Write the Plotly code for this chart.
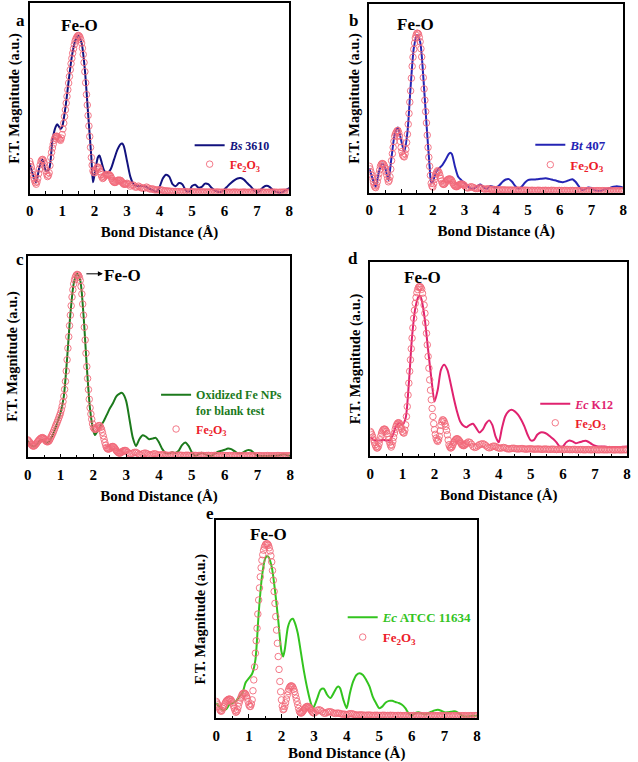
import plotly.graph_objects as go

W, H = 638, 762
FONT = "Liberation Serif"

# Fe2O3 reference: magnitude (% of axis height).
# R grid: 0.025 A steps up to 2.975 A, then 0.05 A steps from 3.0 to 8.0 A
r_grid = [round(i * 0.025, 3) for i in range(120)] + [round(3 + i * 0.05, 2) for i in range(101)]

fe2o3_a = [
    17, 15.5, 14, 12, 10, 8.5, 7, 5.8, 5, 6.2,
    8, 10.5, 13, 15.2, 17, 17.8, 18, 17.3, 16, 14,
    12, 10.3, 9, 9.6, 11, 14.8, 19, 21.7, 24, 26,
    28, 29.2, 30, 30.2, 30, 29.6, 29, 28.4, 28, 29.2,
    31, 34, 37, 40.5, 44, 47.5, 51, 54.5, 58, 61.5,
    65, 68.2, 71, 73.7, 76, 78.2, 80, 81.2, 82, 82.7,
    83, 82.7, 82, 80.7, 79, 76.3, 73, 68.8, 64, 58.2,
    52, 46.5, 41, 35.5, 30, 24.3, 19, 15, 12, 11.2,
    11, 12, 13, 13.7, 14, 13.7, 13, 11.5, 10, 8.8,
    8, 8.4, 9, 9.6, 10, 10.1, 10, 10.1, 10, 9.6,
    9, 8, 7, 6.4, 6, 5.9, 6, 6.5, 7, 7.1,
    7, 7.1, 7, 6.5, 6, 5.5, 5, 5, 5, 5.2,
    # 3.00 A onwards
    5.5, 5, 4, 4.5, 4.5, 3.5, 3.5, 4, 3.5, 3,
    3, 3, 3.5, 3, 2.5, 2.5, 2.5, 2, 2, 2,
    2, 2, 1.8, 1.5, 1.5, 1.5, 1.3, 1.3, 1.2, 1.2,
    1.2, 1.1, 1.1, 1.0, 1.0, 1.1, 1.1, 1.0, 0.9, 0.9,
    1.0, 1.0, 0.9, 0.9, 0.9, 1.0, 1.0, 0.9, 0.9, 0.9,
    0.9, 0.9, 0.9, 0.8, 0.8, 0.9, 0.9, 0.8, 0.8, 0.8,
    0.8, 0.9, 0.8, 0.8, 0.7, 0.8, 0.9, 0.8, 0.8, 0.7,
    0.8, 0.8, 0.9, 0.8, 0.7, 0.8, 0.8, 0.9, 0.8, 0.8,
    0.7, 0.8, 0.8, 0.9, 0.8, 0.8, 0.7, 0.8, 0.8, 0.8,
    0.9, 0.8, 0.8, 0.7, 0.8, 0.8, 0.8, 0.9, 0.8, 0.8,
    0.8,
]

fe2o3_b = [
    14, 12.6, 11, 9.3, 7.6, 5.7, 4, 3.1, 2.7, 4,
    5.8, 7.9, 10, 12.1, 14, 15, 15.5, 15.4, 15, 14.1,
    13, 11.3, 9.4, 7.5, 5.8, 6.6, 8.5, 12.5, 17, 20.7,
    24, 27.2, 30, 31.2, 32, 32.8, 33, 31.8, 30, 27.2,
    24, 21.8, 20, 19.3, 19, 20.6, 23, 26.6, 31, 36.3,
    42, 48, 54, 60.7, 67, 71.8, 76, 79.3, 82, 83.5,
    84.5, 84.5, 84, 82.3, 80, 76.3, 72, 66.7, 61, 55,
    49, 43, 37, 30.5, 24, 18.8, 14, 9.2, 5, 3.5,
    3, 4.8, 7, 8.6, 10, 11, 11.7, 11.3, 10.6, 9.2,
    7.6, 6.2, 5, 4.5, 4.4, 4.8, 5.5, 6.1, 6.7, 7,
    7.2, 7.3, 7.2, 6.9, 6.4, 5.5, 4.6, 4, 3.5, 3.3,
    3.2, 3.4, 3.7, 4.1, 4.4, 4.5, 4.6, 4.5, 4.4, 4.1,
    # 3.00 A onwards
    3.7, 2.8, 2.5, 2.8, 3.2, 3, 2.6, 2.2, 2.2, 2.5,
    2.6, 2.3, 2, 1.8, 2, 2.1, 1.9, 1.7, 1.6, 1.7,
    1.7, 1.6, 1.5, 1.5, 1.5, 1.5, 1.4, 1.4, 1.4, 1.4,
    1.4, 1.3, 1.3, 1.4, 1.4, 1.3, 1.3, 1.3, 1.4, 1.3,
    1.3, 1.2, 1.3, 1.3, 1.2, 1.2, 1.3, 1.3, 1.2, 1.2,
    1.2, 1.3, 1.2, 1.2, 1.2, 1.3, 1.2, 1.2, 1.1, 1.2,
    1.2, 1.2, 1.1, 1.2, 1.2, 1.1, 1.1, 1.2, 1.2, 1.1,
    1.1, 1.2, 1.1, 1.1, 1.2, 1.1, 1.1, 1.1, 1.2, 1.1,
    1.1, 1.1, 1.0, 1.1, 1.1, 1.1, 1.0, 1.1, 1.1, 1.0,
    1.0, 1.1, 1.1, 1.0, 1.0, 1.1, 1.0, 1.0, 1.1, 1.0,
    1.0,
]

fe2o3_c = [
    8.7, 8.2, 7.7, 7.2, 6.6, 6.1, 5.7, 5.6, 5.7, 6.1,
    6.6, 7.1, 7.7, 8.2, 8.7, 9.1, 9.5, 9.7, 9.8, 9.6,
    9.3, 8.8, 8.2, 7.9, 7.7, 7.9, 8.2, 8.9, 9.8, 10.6,
    11.5, 12.4, 13.4, 14.5, 15.6, 16.5, 17.5, 18.6, 19.7, 20.8,
    22, 23.6, 25.4, 27.6, 30.3, 33.7, 37.7, 42.8, 48.4, 54.1,
    59.8, 65.3, 70.5, 75.2, 79.5, 83.1, 86, 88, 89.3, 90.2,
    90.7, 90.6, 90.2, 89.2, 87.7, 84.7, 81, 76, 70.5, 64.5,
    58.2, 51.6, 45, 39.1, 33.6, 28.8, 24.6, 21.5, 18.9, 16.6,
    14.8, 14.2, 13.9, 14, 14.4, 15, 15.6, 15.8, 15.6, 14.9,
    13.9, 12.4, 10.7, 9, 7.4, 6, 4.9, 4.3, 4.1, 4.2,
    4.4, 4.8, 5.2, 5.4, 5.4, 5.1, 4.6, 4, 3.3, 2.9,
    2.5, 2.2, 2.1, 2.2, 2.5, 2.8, 3.1, 3.3, 3.4, 3.4,
    # 3.00 A onwards
    3.3, 2.5, 1.8, 1.8, 2.1, 2.5, 2.5, 2, 1.5, 1.3,
    1.8, 2.1, 2.1, 1.7, 1.3, 1.2, 1.5, 1.8, 1.7, 1.3,
    1.1, 1.2, 1.4, 1.4, 1.2, 1.0, 1.0, 1.1, 1.2, 1.1,
    1.0, 1.0, 1.1, 1.1, 1.0, 0.9, 1.0, 1.1, 1.0, 0.9,
    0.9, 1.0, 1.0, 0.9, 0.9, 1.0, 1.0, 0.9, 0.9, 0.9,
    1.0, 0.9, 0.9, 0.9, 1.0, 0.9, 0.9, 0.8, 0.9, 0.9,
    0.9, 0.8, 0.9, 0.9, 0.8, 0.9, 0.9, 0.8, 0.8, 0.9,
    0.8, 0.8, 0.9, 0.8, 0.8, 0.8, 0.9, 0.8, 0.8, 0.8,
    0.8, 0.9, 0.8, 0.8, 0.8, 0.8, 0.9, 0.8, 0.8, 0.8,
    0.8, 0.8, 0.9, 0.9, 0.8, 0.8, 0.8, 0.8, 0.8, 0.8,
    0.8,
]

fe2o3_d = [
    12.8, 12.1, 11.1, 9.9, 8.5, 7.2, 6, 5, 4.3, 4.4,
    5.1, 6.6, 8.5, 10.4, 12, 13, 13.7, 14, 14, 13.6,
    12.8, 11.7, 10.3, 8.7, 7.2, 5.8, 4.8, 5.8, 7.7, 9.8,
    12, 13.9, 15.4, 16.4, 17.1, 17.3, 17.1, 16.4, 15.4, 14.1,
    12.8, 12.1, 12, 13.5, 16.2, 20.5, 25.6, 31.5, 37.6, 43.7,
    49.6, 55.3, 60.7, 66, 70.9, 75, 78.6, 81.6, 84.1, 85.7,
    86.8, 87.2, 87.2, 86.7, 85.8, 83.8, 81.2, 77.7, 73.5, 68.6,
    63.2, 57.3, 51.3, 45.3, 39.3, 34, 29.1, 24.6, 20.5, 16.8,
    13.7, 11.3, 9.4, 8.2, 7.7, 8.6, 10.3, 13.1, 16, 17.8,
    18.8, 18.6, 17.9, 16.8, 15.4, 13.4, 11.1, 8.4, 6, 4.9,
    4.3, 4.5, 5.1, 6.1, 7.2, 7.9, 8.5, 8.9, 9.1, 8.9,
    8.5, 8, 7.4, 6.7, 6, 5.7, 5.5, 5.6, 6, 6.4,
    # 3.00 A onwards
    6.8, 7.4, 7.2, 6.3, 5.1, 4.6, 4.8, 5.4, 6, 6.3,
    6.5, 6.2, 5.5, 4.8, 4.4, 4.6, 5.1, 5.3, 5.1, 4.6,
    4.3, 4.2, 4.4, 4.6, 4.4, 4.0, 3.8, 3.9, 4.1, 4.2,
    4.1, 3.9, 3.8, 3.9, 4.0, 4.0, 3.8, 3.7, 3.8, 3.9,
    3.9, 3.8, 3.7, 3.7, 3.8, 3.8, 3.7, 3.6, 3.7, 3.8,
    3.7, 3.6, 3.6, 3.7, 3.7, 3.6, 3.5, 3.6, 3.7, 3.6,
    3.5, 3.5, 3.6, 3.6, 3.5, 3.5, 3.5, 3.6, 3.5, 3.4,
    3.5, 3.5, 3.5, 3.4, 3.4, 3.5, 3.5, 3.4, 3.4, 3.5,
    3.5, 3.4, 3.4, 3.4, 3.5, 3.4, 3.4, 3.4, 3.4, 3.5,
    3.4, 3.4, 3.3, 3.4, 3.4, 3.4, 3.3, 3.4, 3.4, 3.4,
    3.4,
]

fe2o3_e = [
    8.4, 7.6, 6.7, 5.6, 4.5, 3.8, 3.4, 3.9, 5, 5.8,
    6.7, 7.6, 8.4, 8.9, 9.2, 9.5, 9.6, 9.5, 9.2, 8.5,
    7.6, 6.3, 5, 3.8, 2.9, 3.3, 4.2, 5.8, 7.6, 9,
    10.1, 11.2, 12.1, 12.5, 12.6, 12.5, 12.1, 11.2, 10.1, 8.4,
    6.7, 5.9, 5.9, 7.1, 9.2, 13.8, 19.3, 25.9, 32.8, 39.1,
    45.4, 52.6, 59.7, 65.8, 71.4, 76, 79.8, 82.6, 84.9, 86.4,
    87.4, 88, 88.2, 88, 87.4, 86.1, 84.5, 82, 79, 74.6,
    69.7, 64, 58, 51.3, 44.5, 37.8, 31.1, 24.6, 18.5, 13.3,
    9.2, 6, 4.2, 4.6, 5.9, 7.7, 9.6, 11.6, 13.4, 14.7,
    15.6, 16.1, 16.3, 16.1, 15.6, 14.6, 13.4, 11.8, 10.1, 8.4,
    6.7, 4.9, 3.4, 2.7, 2.5, 2.7, 3.2, 3.8, 4.5, 5,
    5.5, 5.8, 5.9, 5.7, 5.3, 4.8, 4.2, 3.6, 3, 2.7,
    # 3.00 A onwards
    2.5, 3, 3.9, 4.2, 3.9, 3.2, 2.5, 2.4, 2.9, 3.2,
    3.2, 2.9, 2.5, 2.3, 2.5, 2.5, 2.3, 2, 2, 1.9,
    1.7, 1.9, 2.2, 2.2, 2.0, 1.7, 1.5, 1.5, 1.6, 1.6,
    1.5, 1.4, 1.4, 1.5, 1.5, 1.4, 1.3, 1.4, 1.4, 1.4,
    1.3, 1.3, 1.4, 1.4, 1.3, 1.3, 1.3, 1.4, 1.3, 1.3,
    1.2, 1.3, 1.3, 1.3, 1.2, 1.2, 1.3, 1.3, 1.2, 1.2,
    1.2, 1.3, 1.2, 1.2, 1.2, 1.3, 1.2, 1.2, 1.2, 1.2,
    1.2, 1.2, 1.3, 1.2, 1.2, 1.2, 1.2, 1.2, 1.1, 1.2,
    1.2, 1.2, 1.2, 1.1, 1.2, 1.2, 1.2, 1.2, 1.2, 1.1,
    1.2, 1.2, 1.2, 1.2, 1.1, 1.2, 1.2, 1.2, 1.2, 1.2,
    1.2,
]

# sample curves: (R in A, magnitude in % of axis height)
bs3610 = [
    (0.0, 16), (0.1, 10), (0.2, 6), (0.3, 14), (0.4, 18), (0.5, 12), (0.6, 13),
    (0.7, 28), (0.8, 35), (0.85, 36.4), (0.95, 34), (1.0, 35), (1.1, 45),
    (1.2, 59), (1.3, 72), (1.4, 80), (1.5, 83), (1.6, 79), (1.7, 65), (1.8, 42),
    (1.9, 19), (1.95, 6), (2.0, 10), (2.1, 19), (2.15, 20), (2.2, 17.5),
    (2.3, 12), (2.4, 11), (2.5, 13), (2.6, 18), (2.7, 23), (2.8, 26),
    (2.85, 26.3), (2.9, 25), (3.0, 17), (3.1, 9), (3.2, 5), (3.3, 4), (3.4, 4),
    (3.5, 4), (3.6, 3.5), (3.7, 2.6), (3.8, 1.8), (3.9, 1), (4.0, 3.5),
    (4.1, 8), (4.2, 10), (4.3, 9), (4.4, 5), (4.5, 4), (4.6, 5.6), (4.7, 5),
    (4.8, 2), (4.9, 1), (5.0, 4), (5.1, 4.7), (5.2, 3.2), (5.3, 3.6),
    (5.4, 5.3), (5.5, 5), (5.6, 3.2), (5.7, 1.8), (5.8, 1), (5.9, 1),
    (6.0, 2.3), (6.1, 4), (6.2, 5.6), (6.3, 7), (6.4, 8), (6.5, 8.2),
    (6.6, 7.4), (6.7, 5.6), (6.8, 4), (6.9, 2.1), (7.0, 0.6), (7.1, 1.8),
    (7.2, 3.5), (7.3, 4.2), (7.4, 3.5), (7.5, 1.8), (7.6, 1), (7.7, 0.5),
    (7.8, 1), (7.9, 2), (8.0, 3),
]

bt407 = [
    (0.0, 13), (0.1, 7.6), (0.2, 3.2), (0.3, 11), (0.4, 15.5), (0.5, 13),
    (0.6, 6.7), (0.7, 19), (0.8, 31), (0.9, 34.6), (1.0, 28), (1.1, 21.7),
    (1.2, 32), (1.3, 56), (1.4, 76.5), (1.5, 83.6), (1.6, 80), (1.7, 61.5),
    (1.8, 36.7), (1.9, 13.8), (1.95, 5.5), (2.0, 5.8), (2.1, 11), (2.2, 13),
    (2.3, 14.7), (2.4, 17.3), (2.5, 20.5), (2.55, 21.2), (2.6, 20.5),
    (2.7, 13.8), (2.8, 8.5), (2.9, 6.7), (3.0, 5.3), (3.1, 3.5), (3.2, 2.3),
    (3.3, 2.3), (3.4, 3.5), (3.5, 4.4), (3.6, 2.8), (3.7, 2.1), (3.8, 3.5),
    (3.9, 3.2), (4.0, 2.8), (4.1, 4), (4.2, 5.8), (4.3, 7), (4.4, 7.2),
    (4.5, 5.8), (4.6, 3.5), (4.7, 2.1), (4.8, 3.2), (4.9, 5.3), (5.0, 6.7),
    (5.1, 7), (5.2, 7), (5.3, 7.2), (5.4, 7.4), (5.5, 7.6), (5.6, 7.6),
    (5.7, 7.2), (5.8, 6.7), (5.9, 6.4), (6.0, 5.8), (6.1, 5.6), (6.2, 6),
    (6.3, 6.7), (6.4, 7.2), (6.5, 5.8), (6.6, 3.5), (6.7, 1.4), (6.8, 1.9),
    (6.9, 2.8), (7.0, 2.5), (7.1, 1.4), (7.2, 1), (7.3, 1), (7.4, 1.8),
    (7.5, 2.1), (7.6, 2.7), (7.7, 3.2), (7.8, 3.5), (7.9, 3.2), (8.0, 2.7),
]

oxidized_fe = [
    (0.0, 8.2), (0.1, 6.1), (0.2, 5.4), (0.3, 7), (0.4, 8.7), (0.5, 8.2),
    (0.6, 6.9), (0.7, 9), (0.8, 12.6), (0.9, 17.2), (1.0, 22), (1.1, 30.3),
    (1.2, 49), (1.3, 71), (1.4, 86), (1.5, 91), (1.6, 87.7), (1.7, 70.5),
    (1.8, 45), (1.9, 23.8), (2.0, 13.1), (2.05, 11.1), (2.1, 12.3),
    (2.2, 15.2), (2.3, 17.5), (2.4, 20.8), (2.5, 24.2), (2.6, 27), (2.7, 30.3),
    (2.8, 31.6), (2.85, 32), (2.9, 31.6), (3.0, 27.9), (3.1, 18.9), (3.2, 9.8),
    (3.3, 5.7), (3.4, 9), (3.5, 11), (3.6, 10.3), (3.7, 9), (3.8, 9.3),
    (3.9, 9.7), (4.0, 7.4), (4.1, 4.1), (4.2, 2.1), (4.3, 2), (4.4, 2.5),
    (4.5, 2.2), (4.6, 3.3), (4.7, 6.1), (4.8, 7.4), (4.9, 5.7), (5.0, 2.5),
    (5.1, 0.8), (5.2, 1.5), (5.3, 2.3), (5.4, 1.6), (5.5, 0.8), (5.6, 0.8),
    (5.7, 1.8), (5.8, 2.8), (5.9, 3.3), (6.0, 3.8), (6.1, 4.4), (6.2, 4.1),
    (6.3, 3.1), (6.4, 2.1), (6.5, 2.1), (6.6, 2.8), (6.7, 3.6), (6.8, 3.4),
    (6.9, 2.1), (7.0, 0.8), (7.1, 0.7), (7.2, 0.7), (7.3, 0.7), (7.4, 0.8),
    (7.5, 0.8), (7.6, 0.9), (7.7, 1.2), (7.8, 1.5), (7.9, 1.1), (8.0, 0.8),
]

ec_k12 = [
    (0.0, 10), (0.1, 8.5), (0.2, 8.2), (0.3, 8.2), (0.4, 8.5), (0.5, 8.2),
    (0.6, 8.2), (0.7, 11), (0.8, 15.4), (0.9, 17.1), (1.0, 16.2), (1.1, 19.7),
    (1.2, 37.6), (1.3, 61.5), (1.4, 76), (1.5, 82), (1.55, 82.4), (1.6, 80.3),
    (1.7, 70), (1.8, 54.7), (1.9, 40.2), (2.0, 28.2), (2.1, 34.2), (2.2, 44.4),
    (2.3, 47), (2.4, 44.4), (2.5, 37.6), (2.6, 29.9), (2.7, 23.1), (2.8, 17.9),
    (2.9, 15.7), (3.0, 15), (3.1, 16.2), (3.2, 16.8), (3.3, 14.5), (3.4, 12.3),
    (3.5, 13.7), (3.6, 16.8), (3.7, 18.5), (3.8, 16.2), (3.9, 10.3), (4.0, 7.2),
    (4.1, 14.5), (4.2, 20.5), (4.3, 23.1), (4.4, 23.9), (4.5, 23.1), (4.6, 21.4),
    (4.7, 18.8), (4.8, 15.4), (4.9, 11.1), (5.0, 8.2), (5.1, 8.5), (5.2, 11.1),
    (5.3, 12.3), (5.4, 12.3), (5.5, 11.6), (5.6, 10.3), (5.7, 8.9), (5.8, 7.2),
    (5.9, 5.1), (6.0, 5.1), (6.1, 7.2), (6.2, 8.2), (6.3, 7.7), (6.4, 6.8),
    (6.5, 7.2), (6.6, 7.7), (6.7, 8), (6.8, 7.4), (6.9, 6.3), (7.0, 5.5),
    (7.1, 5.1), (7.2, 5.1), (7.3, 5.1), (7.4, 4.8), (7.5, 4.8), (7.6, 4.8),
    (7.7, 4.8), (7.8, 4.8), (7.9, 5), (8.0, 5.1),
]

ec_atcc11634 = [
    (0.0, 7.6), (0.1, 5.5), (0.2, 3.9), (0.3, 4.5), (0.4, 6.7), (0.5, 7.6),
    (0.6, 8.4), (0.7, 10.9), (0.8, 12.6), (0.9, 18), (1.0, 20.2), (1.1, 22.4),
    (1.2, 29.4), (1.3, 52.9), (1.4, 71.4), (1.5, 80.7), (1.55, 81.8),
    (1.6, 81.5), (1.7, 76.5), (1.8, 64.7), (1.9, 49.6), (2.0, 33.6),
    (2.05, 31.1), (2.1, 34.5), (2.2, 46.2), (2.3, 49.9), (2.35, 50.2),
    (2.4, 48.7), (2.5, 42.9), (2.6, 32.8), (2.7, 22.7), (2.8, 14.3), (2.9, 7.6),
    (2.97, 5), (3.1, 10.1), (3.2, 14.3), (3.3, 14.8), (3.4, 11.8), (3.5, 10.1),
    (3.6, 12.6), (3.7, 15.5), (3.75, 16), (3.8, 15.1), (3.9, 9.2), (4.0, 5),
    (4.1, 12.6), (4.2, 18.5), (4.3, 21.8), (4.4, 22.7), (4.5, 21.8),
    (4.6, 19.3), (4.7, 16), (4.8, 10.9), (4.9, 7.6), (5.0, 5), (5.1, 5.9),
    (5.2, 7.9), (5.3, 8.7), (5.4, 8.7), (5.5, 8.1), (5.6, 7.6), (5.7, 6.7),
    (5.8, 5), (5.9, 2.5), (6.0, 1.2), (6.1, 2.5), (6.2, 3), (6.3, 2.4),
    (6.4, 1.8), (6.5, 2.5), (6.6, 3.2), (6.7, 3.9), (6.8, 4.2), (6.9, 3.7),
    (7.0, 2.9), (7.1, 2.9), (7.2, 3.2), (7.3, 3.4), (7.4, 2.9), (7.5, 1.7),
    (7.6, 0.8), (7.7, 0.8), (7.8, 1), (7.9, 1.2), (8.0, 1.2),
]

x_ticks = [0, 1, 2, 3, 4, 5, 6, 7, 8]

FE_COLOR = "#f26a7a"
FE_TEXT = "#ec1c2a"
FE_NAME = f"<span style='color:{FE_TEXT}'><b>Fe<sub>2</sub>O<sub>3</sub></b></span>"

# pixel boxes: left, top, right, bottom
panels = [
    dict(letter="a", box=(26, 3, 289, 194), letter_xy=(10, 9), line=bs3610, fe=fe2o3_a,
         color="#12127e", name="<i>Bs</i> 3610", leg=(188, 131), leg_size=12,
         feo=(1.55, 88)),
    dict(letter="b", box=(370, 4, 627, 193), letter_xy=(354, 9), line=bt407, fe=fe2o3_b,
         color="#2424b4", name="<i>Bt</i> 407", leg=(533, 130), leg_size=13,
         feo=(1.46, 89)),
    dict(letter="c", box=(24, 256, 290, 458), letter_xy=(10, 260), line=oxidized_fe,
         fe=fe2o3_c, color="#1c7a1c", name="Oxidized Fe NPs<br>for blank test",
         leg=(154, 381), leg_size=12, feo=(2.89, 90)),
    dict(letter="d", box=(371, 262, 631, 457), letter_xy=(353, 259), line=ec_k12,
         fe=fe2o3_d, color="#e0226f", name="<i>Ec</i> K12", leg=(538, 390),
         leg_size=12, feo=(1.63, 92)),
    dict(letter="e", box=(215, 521, 479, 719), letter_xy=(203, 526), line=ec_atcc11634,
         fe=fe2o3_e, color="#33c41f", name="<i>Ec</i> ATCC 11634", leg=(343, 603),
         leg_size=13, feo=(1.6, 93)),
]

fig = go.Figure()
annotations = []

for i, p in enumerate(panels):
    n = "" if i == 0 else str(i + 1)
    xid, yid, legid = "x" + n, "y" + n, "legend" + n
    left, top, right, bottom = p["box"]

    fig.add_trace(go.Scatter(
        x=[r for r, _ in p["line"]], y=[v for _, v in p["line"]],
        mode="lines", line=dict(color=p["color"], width=2, shape="spline", smoothing=0.7),
        name=f"<span style='color:{p['color']}'><b>{p['name']}</b></span>",
        xaxis=xid, yaxis=yid, legend=legid,
    ))
    fig.add_trace(go.Scatter(
        x=r_grid, y=p["fe"], mode="markers",
        marker=dict(symbol="circle-open", size=6.5, color=FE_COLOR, line=dict(width=0.9)),
        name=FE_NAME, xaxis=xid, yaxis=yid, legend=legid,
    ))

    fig.layout["xaxis" + n] = dict(
        domain=[left / W, right / W], range=[0, 8], anchor=yid,
        tickmode="array", tickvals=x_ticks, ticktext=[str(t) for t in x_ticks],
        ticks="inside", ticklen=4, tickwidth=1.2, tickcolor="black",
        minor=dict(ticks="inside", dtick=0.5, ticklen=2.5, tickwidth=1, tickcolor="black"),
        showline=True, linecolor="black", linewidth=1.5, mirror=True,
        showgrid=False, zeroline=False, ticklabelstandoff=3,
        tickfont=dict(family=FONT, size=15, color="black", weight="bold"),
        title=dict(text="Bond Distance (Å)", standoff=8,
                   font=dict(family=FONT, size=15, color="black", weight="bold")),
    )
    fig.layout["yaxis" + n] = dict(
        domain=[1 - bottom / H, 1 - top / H], range=[0, 100], anchor=xid,
        showticklabels=False, ticks="", showline=True, linecolor="black",
        linewidth=1.5, mirror=True, showgrid=False, zeroline=False,
        title=dict(text="F.T. Magnitude (a.u.)", standoff=5,
                   font=dict(family=FONT, size=14.5, color="black", weight="bold")),
    )
    fig.layout[legid] = dict(
        x=p["leg"][0] / W, y=1 - p["leg"][1] / H, xanchor="left", yanchor="top",
        bgcolor="rgba(0,0,0,0)", borderwidth=0, itemwidth=30, tracegroupgap=0,
        valign="top", font=dict(family=FONT, size=p["leg_size"], color="black"),
    )

    annotations.append(dict(
        x=p["letter_xy"][0] / W, y=1 - p["letter_xy"][1] / H, xref="paper", yref="paper",
        text=f"<b>{p['letter']}</b>", showarrow=False,
        font=dict(family=FONT, size=17, color="black"),
    ))
    annotations.append(dict(
        x=p["feo"][0], y=p["feo"][1], xref=xid, yref=yid, text="<b>Fe-O</b>",
        showarrow=False, font=dict(family=FONT, size=17, color="black"),
    ))

# arrow from the Fe-O peak to its label in panel c
annotations.append(dict(
    x=2.29, y=91, xref="x3", yref="y3", text="", showarrow=True, ax=-18, ay=0,
    arrowhead=2, arrowsize=1, arrowwidth=1, arrowcolor="black",
))

fig.update_layout(
    width=W, height=H, margin=dict(l=0, r=0, t=0, b=0),
    paper_bgcolor="white", plot_bgcolor="white",
    annotations=annotations, showlegend=True,
)

# drop the browser's default body margin so the figure sits at the page origin
fig.write_html(
    "out.html",
    config={"displayModeBar": False},
    post_script="document.body.style.margin='0';",
)
